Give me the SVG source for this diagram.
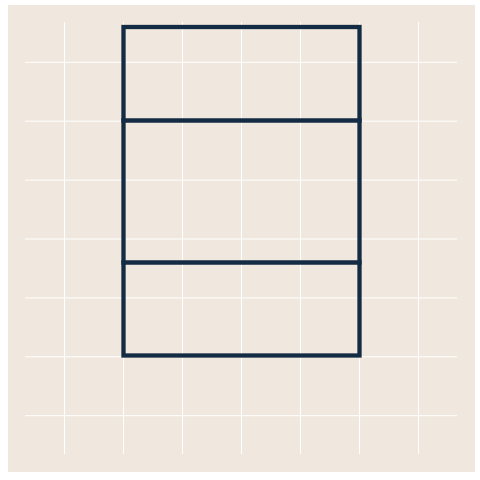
<svg xmlns="http://www.w3.org/2000/svg" width="480" height="480" viewBox="0 0 480 480">
  <style>
    .grid { stroke: #ffffff; stroke-width: 1; fill: none; }
    .shape { stroke: #132b43; stroke-width: 4.3; fill: none; stroke-linecap: square; stroke-linejoin: miter; }
  </style>
  <rect x="0" y="0" width="480" height="480" fill="#ffffff"/>
  <rect x="8" y="5" width="467" height="467" fill="#f0e8de"/>
  <g id="grid" class="grid">
    <path d="M64.5 22V454M123.5 22V454M182.5 22V454M241.5 22V454M300.5 22V454M359.5 22V454M418.5 22V454"/>
    <path d="M25 62.3H457M25 121.2H457M25 180.1H457M25 239H457M25 297.9H457M25 356.8H457M25 415.7H457"/>
  </g>
  <g id="box" class="shape">
    <rect x="123.5" y="27" width="236" height="328.5"/>
  </g>
  <g id="connectors" class="shape">
    <line x1="123.5" y1="120.5" x2="359.5" y2="120.5"/>
    <line x1="123.5" y1="262.5" x2="359.5" y2="262.5"/>
  </g>
</svg>
